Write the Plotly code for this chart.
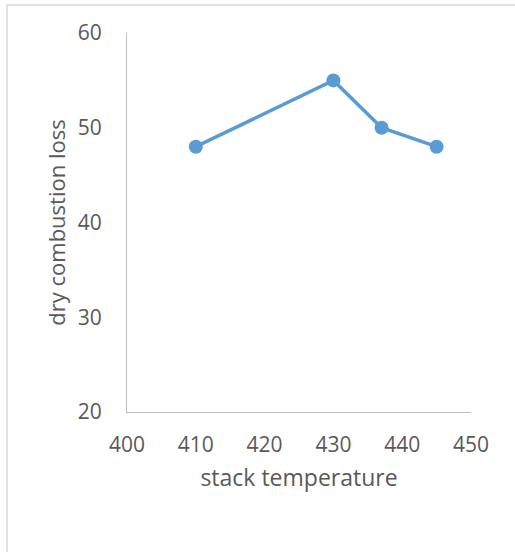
import plotly.graph_objects as go

stack_temperature = [410, 430, 437, 445]
dry_combustion_loss = [48, 55, 50, 48]
x_ticks = [400, 410, 420, 430, 440, 450]
y_ticks = [20, 30, 40, 50, 60]

W, H = 515, 552
L, R, T, B = 127, 44, 33, 140
pw, ph = W - L - R, H - T - B

fig = go.Figure()
fig.add_trace(go.Scatter(
    x=stack_temperature, y=dry_combustion_loss, mode="lines+markers",
    line=dict(color="#5b9bd5", width=3.5),
    marker=dict(color="#5b9bd5", size=14),
    showlegend=False, cliponaxis=False,
))

font_family = "Open Sans, Liberation Sans, sans-serif"
fig.update_layout(
    width=W, height=H,
    margin=dict(l=L, r=R, t=T, b=B),
    paper_bgcolor="white", plot_bgcolor="white",
    font=dict(family=font_family, color="#595959", size=21),
    xaxis=dict(range=[400, 450], tickvals=x_ticks, showgrid=False, zeroline=False,
               showline=True, linecolor="#bfbfbf", linewidth=1, ticks="",
               ticklabelstandoff=14,
               tickfont=dict(size=21, color="#595959"),
               title=dict(text="stack temperature", font=dict(size=23, color="#595959"), standoff=12)),
    yaxis=dict(range=[20, 60], tickvals=y_ticks, showgrid=False, zeroline=False,
               showline=True, linecolor="#bfbfbf", linewidth=1, ticks="",
               ticklabelstandoff=20,
               tickfont=dict(size=21, color="#595959"),
               title=dict(text="dry combustion loss", font=dict(size=22, color="#595959"), standoff=6)),
    shapes=[dict(type="rect", xref="paper", yref="paper",
                 x0=(7 - L) / pw, x1=(W + 2 - L) / pw,
                 y0=(ph + T - (H + 2)) / ph, y1=(ph + T - 5) / ph,
                 line=dict(color="#d9d9d9", width=1.5), fillcolor="rgba(0,0,0,0)")],
)

fig.write_html("out.html")
